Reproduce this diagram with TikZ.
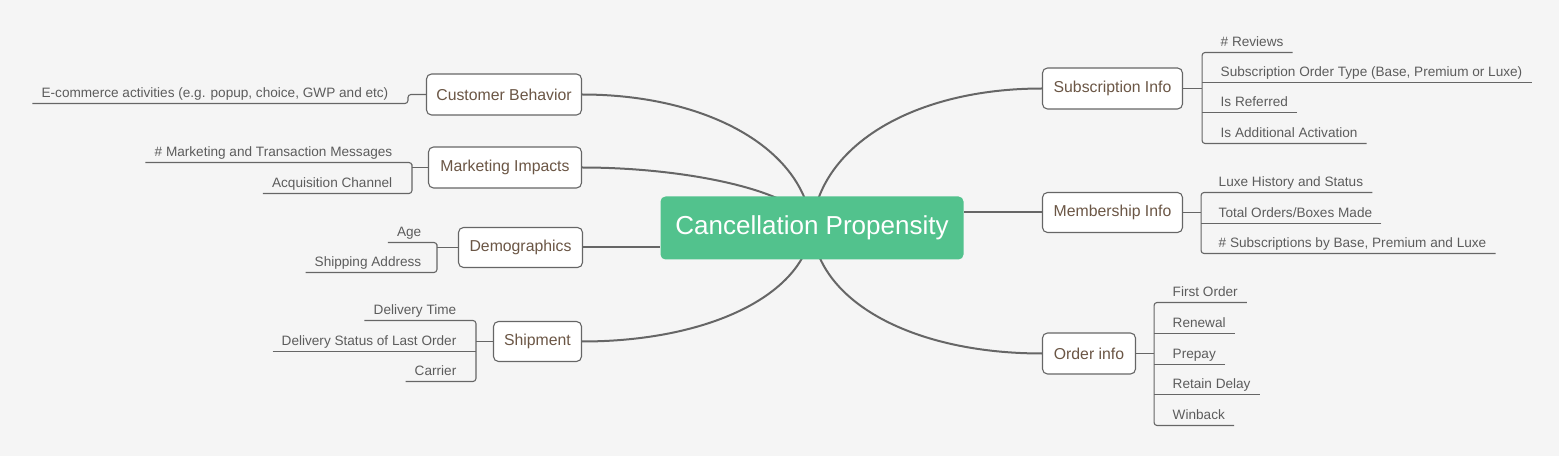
\documentclass[tikz,border=0pt]{standalone}
\usepackage{fontspec}
\setmainfont{Liberation Sans}
\definecolor{bgc}{HTML}{F5F5F5}
\definecolor{topicgreen}{HTML}{52C28D}
\definecolor{linec}{HTML}{666666}
\definecolor{subtext}{HTML}{6B5645}
\definecolor{leaftext}{HTML}{5C5C5C}
\pgfdeclarelayer{bg}
\pgfdeclarelayer{lines}
\pgfsetlayers{bg,lines,main}
\begin{document}
\begin{tikzpicture}[x=1bp,y=-1bp,
 central/.style={fill=topicgreen, rounded corners=5bp, minimum width=303bp, minimum height=63bp, inner sep=0pt, text=white, font=\fontsize{26bp}{30bp}\selectfont},
 subbox/.style={draw=linec, line width=1.1bp, fill=white, rounded corners=5bp, minimum height=41bp, inner sep=0pt, text=subtext, font=\fontsize{15.8bp}{19bp}\selectfont},
 leafl/.style={anchor=south east, inner xsep=9bp, inner ysep=6bp, text height=10bp, text depth=0pt, text=leaftext, font=\fontsize{13.6bp}{16bp}\selectfont},
 leafr/.style={leafl, anchor=south west},
 mainline/.style={draw=linec, line width=2bp},
 leafline/.style={draw=linec, line width=1.1bp, rounded corners=3bp}]
\begin{pgfonlayer}{bg}
\fill[bgc] (-0.5,-0.5) rectangle (1558.5,455.5);
\end{pgfonlayer}
\useasboundingbox (-0.5,-0.5) rectangle (1558.5,455.5);

% central topic
\node[central] (ct) at (811.5,227.5) {Cancellation Propensity};

% subtopics
\node[subbox, minimum width=155bp] (cb) at (503.5,94) {Customer Behavior};
\node[subbox, minimum width=153bp] (mi) at (504.5,167) {Marketing Impacts};
\node[subbox, minimum width=124bp, minimum height=40bp] (dg) at (520,247) {Demographics};
\node[subbox, minimum width=88bp, minimum height=40bp] (sh) at (537,341) {Shipment};
\node[subbox, minimum width=140bp] (si) at (1112,88) {Subscription Info};
\node[subbox, minimum width=140bp, minimum height=40bp] (mb) at (1112,212) {Membership Info};
\node[subbox, minimum width=93bp] (oi) at (1088.5,353) {Order info};

% left leaves
\node[leafl] (e1) at (397,103) {E-commerce activities (e.g. popup, choice, GWP and etc)};
\node[leafl] (m1) at (401,162) {\# Marketing and Transaction Messages};
\node[leafl] (m2) at (401,193) {Acquisition Channel};
\node[leafl] (d1) at (430,242) {Age};
\node[leafl] (d2) at (430,272) {Shipping Address};
\node[leafl] (s1) at (465,320) {Delivery Time};
\node[leafl] (s2) at (465,351) {Delivery Status of Last Order};
\node[leafl] (s3) at (465,381) {Carrier};

% right leaves
\node[leafr] (r1) at (1211,52) {\# Reviews};
\node[leafr] (r2) at (1211,82) {Subscription Order Type (Base, Premium or Luxe)};
\node[leafr] (r3) at (1211,112) {Is Referred};
\node[leafr] (r4) at (1211,143) {Is Additional Activation};
\node[leafr] (n1) at (1209,192) {Luxe History and Status};
\node[leafr] (n2) at (1209,223) {Total Orders/Boxes Made};
\node[leafr] (n3) at (1209,253) {\# Subscriptions by Base, Premium and Luxe};
\node[leafr] (o1) at (1163,302) {First Order};
\node[leafr] (o2) at (1163,333) {Renewal};
\node[leafr] (o3) at (1163,364) {Prepay};
\node[leafr] (o4) at (1163,394) {Retain Delay};
\node[leafr] (o5) at (1163,425) {Winback};

% bracket junctions
\coordinate (mib) at ([xshift=-16bp]mi.west);
\coordinate (dgb) at ([xshift=-21bp]dg.west);
\coordinate (shb) at ([xshift=-17bp]sh.west);
\coordinate (sib) at ([xshift=19bp]si.east);
\coordinate (mbb) at ([xshift=18bp]mb.east);
\coordinate (oib) at ([xshift=18bp]oi.east);

\begin{pgfonlayer}{lines}
% main branches
\draw[mainline] (cb.east) .. controls (705,94) and (804,147) .. (ct.center);
\draw[mainline] (mi.east) .. controls (690,167) and (804,192) .. (ct.center);
\draw[mainline] (sh.east) .. controls (707,341) and (804,295) .. (ct.center);
\draw[mainline] (si.west) .. controls (915,88) and (818,144) .. (ct.center);
\draw[mainline] (oi.west) .. controls (915,353) and (818,303) .. (ct.center);
\draw[mainline] (dg.east) -- (dg.east -| ct.west);
\draw[mainline] (mb.west) -- (mb.west -| ct.east);

% left leaf lines
\draw[leafline] (cb.west) -- ++(-18,0) |- (e1.south west);
\draw[leafline] (mi.west) -- (mib);
\draw[leafline] (m1.south west) -| (mib) |- (m2.south west);
\draw[leafline] (dg.west) -- (dgb);
\draw[leafline] (d1.south west) -| (dgb) |- (d2.south west);
\draw[leafline] (sh.west) -- (shb);
\draw[leafline] (s1.south west) -| (shb) |- (s3.south west);
\draw[leafline] (s2.south west) -- (s2.south west -| shb);

% right leaf lines
\draw[leafline] (si.east) -- (sib);
\draw[leafline] (r1.south east) -| (sib) |- (r4.south east);
\draw[leafline] (r2.south east) -- (r2.south east -| sib);
\draw[leafline] (r3.south east) -- (r3.south east -| sib);
\draw[leafline] (mb.east) -- (mbb);
\draw[leafline] (n1.south east) -| (mbb) |- (n3.south east);
\draw[leafline] (n2.south east) -- (n2.south east -| mbb);
\draw[leafline] (oi.east) -- (oib);
\draw[leafline] (o1.south east) -| (oib) |- (o5.south east);
\draw[leafline] (o2.south east) -- (o2.south east -| oib);
\draw[leafline] (o3.south east) -- (o3.south east -| oib);
\draw[leafline] (o4.south east) -- (o4.south east -| oib);
\end{pgfonlayer}
\end{tikzpicture}
\end{document}
